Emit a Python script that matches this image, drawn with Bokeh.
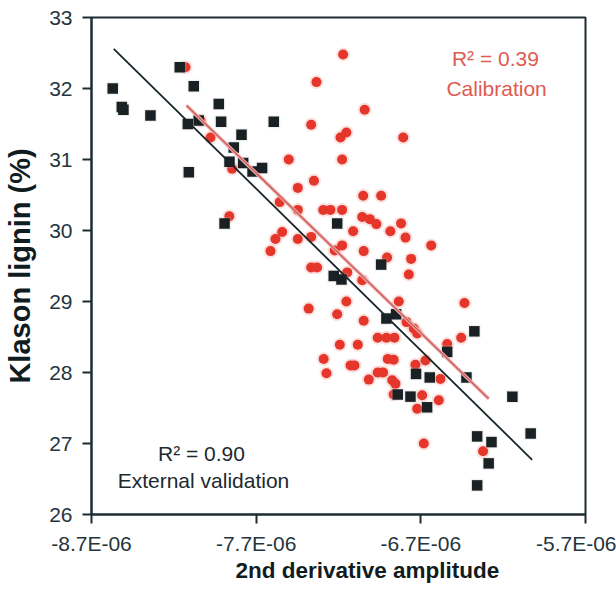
from bokeh.plotting import figure
from bokeh.models import Range1d, FixedTicker, ColumnDataSource, Title
from bokeh.core.properties import value
from bokeh.embed import file_html
from bokeh.resources import INLINE

# ---- data (x in units of 1E-06) ----
cal_x = [-7.172, -7.334, -7.041, -7.366, -7.188, -7.152, -6.807, -7.502, -7.178, -7.349,
         -7.447, -7.557, -7.447, -7.293, -7.249, -7.178, -7.050, -6.941, -7.056, -7.010,
         -6.970, -6.820, -7.111, -6.885, -6.793, -7.542, -7.583, -7.447, -7.366, -7.613,
         -7.223, -7.178, -7.047, -6.905, -6.759, -6.773, -7.366, -7.330, -7.147, -7.056,
         -7.152, -7.381, -7.208, -6.834, -7.047, -6.435, -6.787, -6.743, -6.722, -6.962,
         -6.909, -6.860, -7.192, -7.083, -6.455, -6.540, -7.290, -7.273, -7.127, -7.103,
         -6.901, -6.865, -6.733, -6.672, -6.962, -6.929, -7.016, -6.874, -6.854, -6.581,
         -6.692, -6.865, -6.591, -6.722, -6.682, -6.322, -6.637, -7.977, -8.129, -7.863,
         -8.038, -7.846]
cal_y = [32.48, 32.09, 31.70, 31.49, 31.31, 31.38, 31.31, 31.00, 31.00, 30.70,
         30.60, 30.40, 30.29, 30.29, 30.29, 30.29, 30.49, 30.49, 30.19, 30.16,
         30.09, 30.10, 29.99, 29.99, 29.90, 29.98, 29.88, 29.88, 29.91, 29.71,
         29.72, 29.79, 29.71, 29.62, 29.60, 29.38, 29.48, 29.48, 29.41, 29.30,
         29.00, 28.90, 28.82, 29.00, 28.73, 28.98, 28.71, 28.62, 28.55, 28.49,
         28.49, 28.49, 28.39, 28.39, 28.49, 28.40, 28.19, 27.99, 28.10, 28.10,
         28.19, 28.18, 28.11, 28.17, 28.00, 28.00, 27.90, 27.89, 27.84, 27.91,
         27.68, 27.69, 27.61, 27.49, 27.00, 26.89, 29.79, 31.31, 32.30, 30.20,
         31.55, 30.87]

ext_x = [-8.571, -8.516, -8.506, -8.342, -8.164, -8.079, -7.927, -8.115, -8.049, -7.913,
         -7.593, -7.789, -7.836, -7.862, -7.779, -7.722, -7.664, -8.109, -7.892, -7.208,
         -7.229, -7.182, -6.941, -6.909, -6.850, -6.375, -6.540, -6.423, -6.729, -6.646,
         -6.840, -6.763, -6.662, -6.144, -6.033, -6.358, -6.271, -6.288, -6.358]
ext_y = [32.00, 31.74, 31.70, 31.62, 32.30, 32.03, 31.78, 31.50, 31.55, 31.53,
         31.53, 31.35, 31.17, 30.97, 30.95, 30.83, 30.88, 30.82, 30.10, 30.10,
         29.36, 29.31, 29.52, 28.76, 28.82, 28.58, 28.29, 27.93, 27.98, 27.93,
         27.69, 27.66, 27.51, 27.66, 27.14, 27.10, 27.02, 26.72, 26.41]

# regression fits: slope, intercept, x extent
cal_fit_slope, cal_fit_intercept = -2.2507, 13.478
cal_fit_xrange = [-8.123, -6.288]
ext_fit_slope, ext_fit_intercept = -2.278, 13.048
ext_fit_xrange = [-8.565, -6.024]

x_ticks = [-8.7, -7.7, -6.7, -5.7]
x_tick_labels = ["-8.7E-06", "-7.7E-06", "-6.7E-06", "-5.7E-06"]
y_ticks = [26, 27, 28, 29, 30, 31, 32, 33]

x_title = "2nd derivative amplitude"
y_title = "Klason lignin (%)"
cal_label = ["R\u00b2 = 0.39", "Calibration"]
ext_label = ["R\u00b2 = 0.90", "External validation"]

FONT = "Liberation Sans"
DARK = "#1d2c33"

p = figure(width=616, height=596, output_backend="svg", toolbar_location=None,
           x_range=Range1d(-8.7, -5.7), y_range=Range1d(26, 33),
           min_border_left=91, min_border_right=31, min_border_top=17, min_border_bottom=82)
p.background_fill_color = "white"
p.border_fill_color = "white"
p.outline_line_color = DARK
p.outline_line_width = 2
p.xgrid.visible = False
p.ygrid.visible = False

for ax in (p.xaxis[0], p.yaxis[0]):
    ax.axis_line_color = DARK
    ax.axis_line_width = 2
    ax.major_tick_line_color = DARK
    ax.major_tick_line_width = 2
    ax.major_tick_out = 9
    ax.major_tick_in = 0
    ax.minor_tick_line_color = None
    ax.major_label_text_font = FONT
    ax.major_label_text_font_size = "21px"
    ax.major_label_text_color = "#25353c"
    ax.axis_label_text_font = FONT
    ax.axis_label_text_font_style = "bold"
    ax.axis_label_text_color = "#111c20"

p.xaxis.ticker = FixedTicker(ticks=x_ticks)
p.xaxis.major_label_overrides = {t: l for t, l in zip(x_ticks, x_tick_labels)}
p.yaxis.ticker = FixedTicker(ticks=y_ticks)
p.yaxis.axis_label = y_title
p.yaxis.axis_label_text_font_size = "29px"
p.xaxis.major_label_standoff = 8
p.yaxis.major_label_standoff = 10
p.yaxis.axis_label_standoff = 10

# x-axis title (shifted right of centre, as in the original figure)
p.add_layout(Title(text=x_title, align="left", offset=144, text_font=FONT,
                   text_font_style="bold", text_font_size="22.5px",
                   text_color="#111c20", standoff=0, vertical_align="top"), "below")

cal_src = ColumnDataSource(dict(x=cal_x, y=cal_y))
ext_src = ColumnDataSource(dict(x=ext_x, y=ext_y))

# soft halo + calibration points
p.scatter("x", "y", source=cal_src, marker="circle", size=14, fill_color="#f08a80",
          fill_alpha=0.25, line_color=None)
p.scatter("x", "y", source=cal_src, marker="circle", size=10, fill_color="#e4362b",
          line_color=None)

# external validation squares
p.scatter("x", "y", source=ext_src, marker="square", size=13, fill_color="#c9c9c9",
          fill_alpha=0.25, line_color=None)
p.scatter("x", "y", source=ext_src, marker="square", size=10.5, fill_color="#1a2125",
          line_color=None)

# regression lines
cal_fit_y = [cal_fit_slope * x + cal_fit_intercept for x in cal_fit_xrange]
ext_fit_y = [ext_fit_slope * x + ext_fit_intercept for x in ext_fit_xrange]
p.line(cal_fit_xrange, cal_fit_y, line_color="#eab0ae", line_width=3.5)
p.line(cal_fit_xrange, cal_fit_y, line_color="#cf5a58", line_width=1.3)
p.line(ext_fit_xrange, ext_fit_y, line_color="#17252b", line_width=1.8)

# annotations
p.text(x=[-6.247, -6.24], y=[32.42, 32.0], text=cal_label, text_color="#e05a50",
       text_font=value(FONT), text_font_size="21px", text_align="center",
       text_baseline="middle")
p.text(x=[-8.032, -8.02], y=[26.86, 26.48], text=ext_label, text_color="#1c2a30",
       text_font=value(FONT), text_font_size="21px", text_align="center",
       text_baseline="middle")

open("out.html", "w").write(file_html(p, INLINE))
